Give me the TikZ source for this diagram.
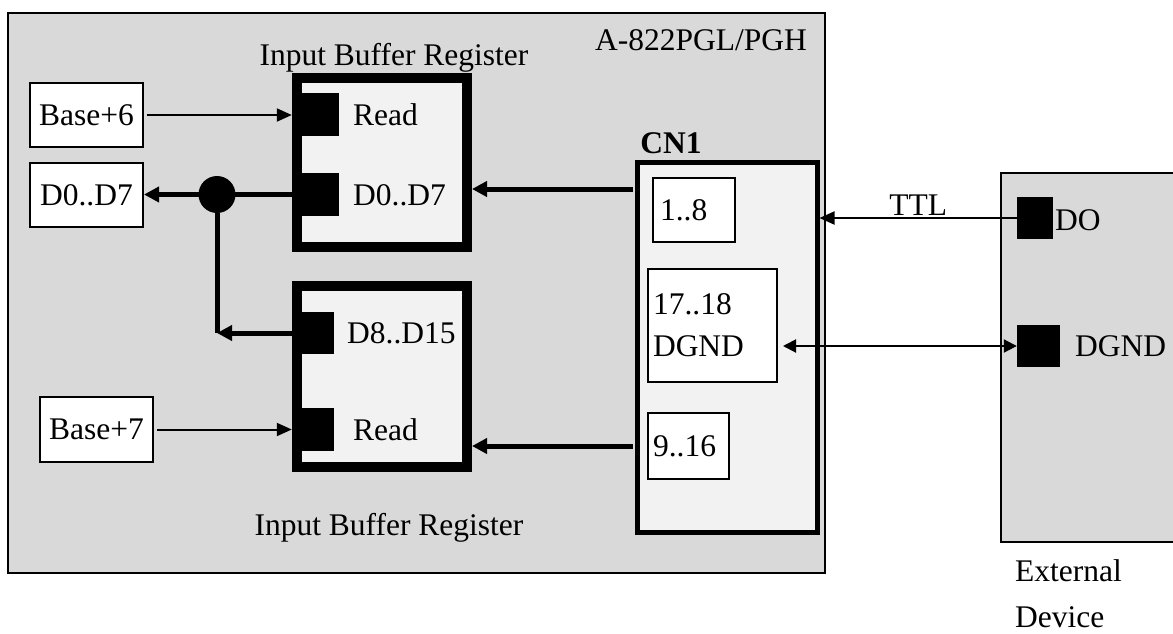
\documentclass[tikz,border=0pt]{standalone}
\usepackage{fontspec}
\setmainfont{Liberation Serif}
\usetikzlibrary{arrows.meta}
\tikzset{
    board/.style={draw,fill=black!15,line width=2pt,inner sep=0pt},
    regbox/.style={draw,fill=black!5,line width=10pt,inner sep=0pt},
    pad/.style={fill=black,inner sep=0pt},
    txtbox/.style={draw,fill=white,line width=2pt,inner sep=0pt},
    pinbox/.style={draw,fill=white,line width=2pt,inner xsep=5pt,inner ysep=0pt,align=left},
    sig/.style={line width=2pt,-{Triangle[length=15pt,width=13pt]}},
    bus/.style={line width=5pt,-{Triangle[length=15pt,width=15pt]}},
}
\begin{document}
\begin{tikzpicture}[x=1pt,y=-1pt,font=\fontsize{31.5}{38}\selectfont]
    \useasboundingbox (0,0) rectangle (1173,633);
    \begin{scope}
        \clip (0,0) rectangle (1173,633);
        \node[board,minimum width=817pt,minimum height=560pt] (card) at (416.5,293) {};
        \node[board,minimum width=189pt,minimum height=369pt] (ext) at (1095.5,357.5) {};
    \end{scope}
    \node (model) at (701,40) {A-822PGL/PGH};
    % registers
    \node[regbox,minimum width=170pt,minimum height=169pt] (regA) at (382,162.5) {};
    \node[regbox,minimum width=170pt,minimum height=181pt] (regB) at (382,376.5) {};
    \node (titleA) at (394,58) {Input Buffer Register};
    \node (titleB) at (389,528) {Input Buffer Register};
    \node[pad,minimum width=47pt,minimum height=43pt] (padA1) at (315.5,114.5) {};
    \node[pad,minimum width=47pt,minimum height=43pt] (padA2) at (315.5,194.5) {};
    \node[pad,minimum width=42pt,minimum height=42pt] (padB1) at (313,333) {};
    \node[pad,minimum width=42pt,minimum height=43pt] (padB2) at (313,429.5) {};
    \node[anchor=west,inner sep=0pt] (rdA) at (353,115) {Read};
    \node[anchor=west,inner sep=0pt] (dA) at (353,195) {D0..D7};
    \node[anchor=west,inner sep=0pt] (dB) at (347,333) {D8..D15};
    \node[anchor=west,inner sep=0pt] (rdB) at (353,430) {Read};
    % ports
    \node[txtbox,minimum width=113pt,minimum height=64pt] (base6) at (86.5,115) {Base+6};
    \node[txtbox,minimum width=113pt,minimum height=64pt] (d07) at (86.5,195) {D0..D7};
    \node[txtbox,minimum width=113pt,minimum height=65pt] (base7) at (96.5,429.5) {Base+7};
    % connector
    \node[draw,fill=black!5,line width=5pt,inner sep=0pt,minimum width=180pt,minimum height=370pt] (cn) at (727,347) {};
    \node (cnlbl) at (671,143) {\textbf{CN1}};
    \node[pinbox,text width=68pt,inner xsep=7pt,minimum height=64pt] (p18) at (694,210) {1..8};
    \node[pinbox,text width=119pt,minimum height=113pt,font=\fontsize{31.5}{42}\selectfont] (p1718) at (712.5,325.5) {17..18\\DGND};
    \node[pinbox,text width=71pt,minimum height=66pt] (p916) at (688.5,446) {9..16};
    % external device
    \node[pad,minimum width=36pt,minimum height=42pt] (pDO) at (1035,218) {};
    \node[pad,minimum width=43pt,minimum height=42pt] (pGND) at (1038.5,346) {};
    \node[anchor=west,inner sep=0pt] (lDO) at (1055,220) {DO};
    \node[anchor=west,inner sep=0pt] (lGND) at (1075,346) {DGND};
    \node[anchor=west,inner sep=0pt,align=left,font=\fontsize{31.5}{46}\selectfont] (extlbl) at (1015,594) {External\\Device};
    % wiring
    \draw[sig,shorten <=3pt] (base6.east) -- (base6.east -| padA1.west);
    \draw[sig,shorten <=3pt] (base7.east) -- (base7.east -| padB2.west);
    \node[circle,fill=black,inner sep=0pt,minimum size=37pt] (junc) at (217,194.5) {};
    \coordinate (tee) at (217,333);
    \draw[bus] (padA2.west) -- (d07.east |- padA2.west);
    \draw[line width=5pt] (junc) -- (tee);
    \draw[bus] (padB1.west) -- (tee);
    \coordinate (cnA) at (633,189);
    \coordinate (cnB) at (633,446);
    \draw[bus] (cnA) -- (cnA -| regA.east);
    \draw[bus] (cnB) -- (cnB -| regB.east);
    \draw[sig] (pDO.west) -- (pDO.west -| cn.east) node[midway,above=-2pt] (ttl) {TTL};
    \draw[line width=2pt,{Triangle[length=13pt,width=13pt]}-{Triangle[length=13pt,width=13pt]},shorten <=5pt] (p1718.east |- pGND.west) -- (pGND.west);
\end{tikzpicture}
\end{document}
